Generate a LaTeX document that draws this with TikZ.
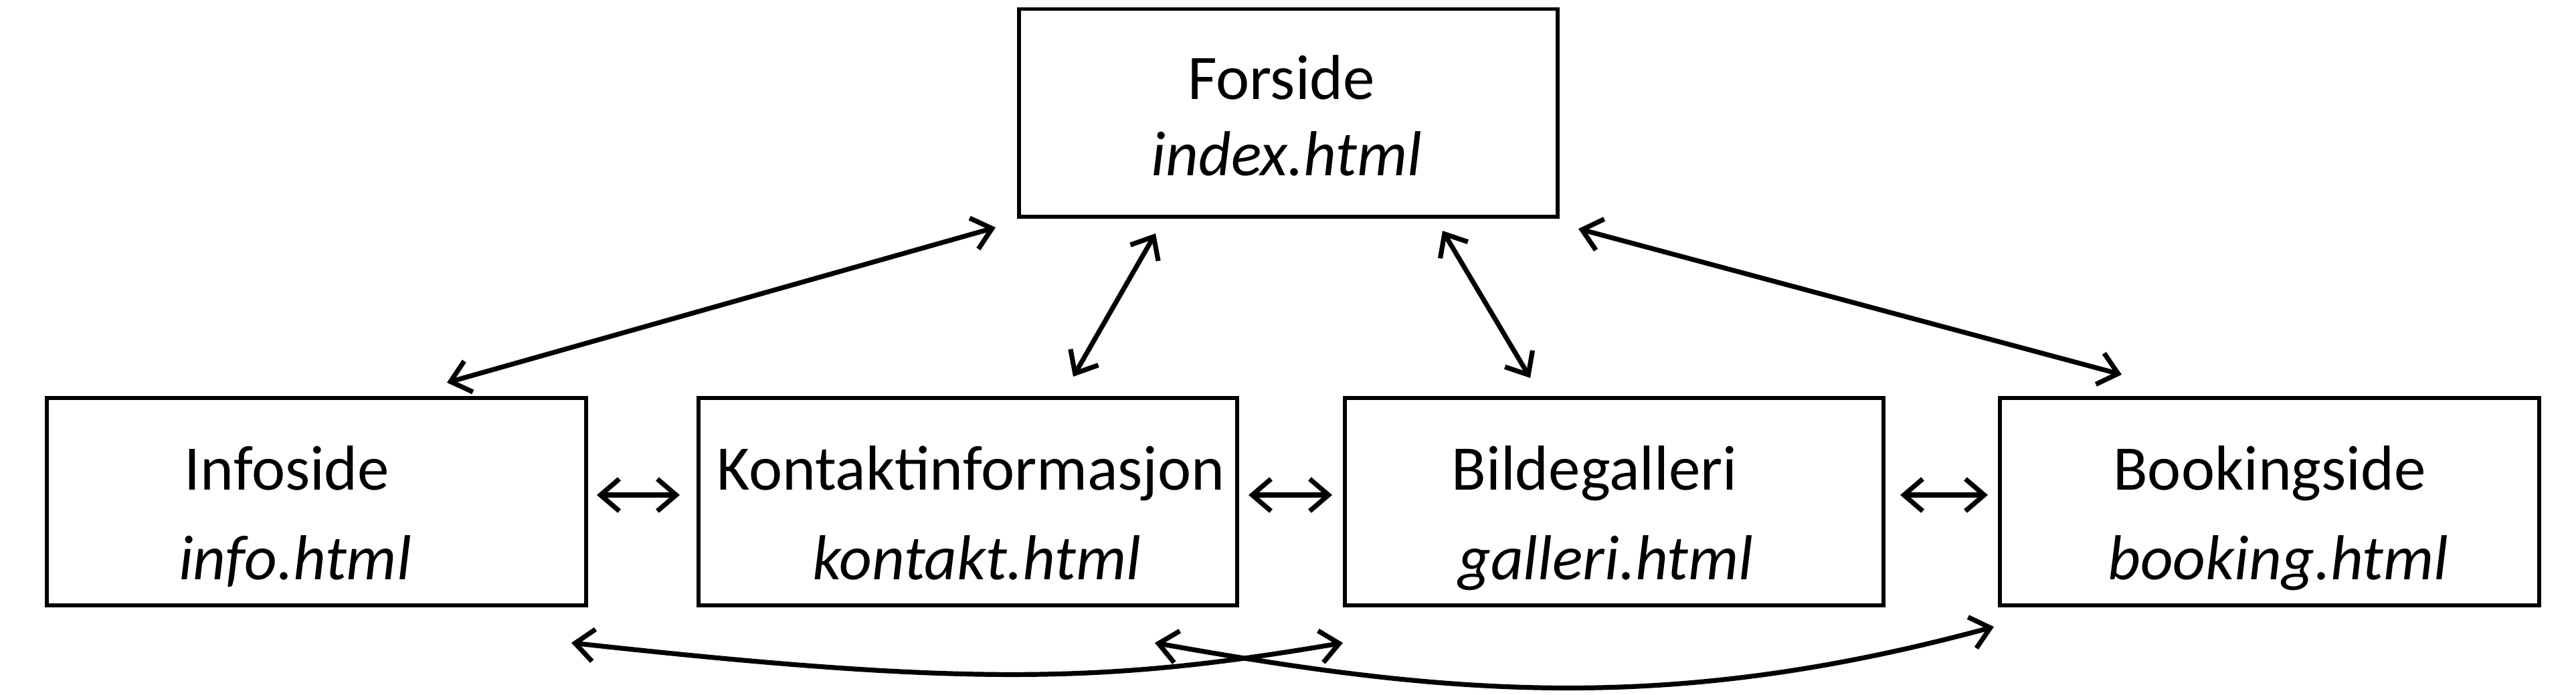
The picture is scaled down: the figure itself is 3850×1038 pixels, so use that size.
\documentclass[tikz,border=0pt]{standalone}
\usepackage{fontspec}
\setmainfont{Carlito}
\usetikzlibrary{arrows.meta}
\begin{document}
\begin{tikzpicture}[x=0.01cm,y=-0.01cm,
  pagebox/.style={draw=black, line width=0.058cm, minimum width=8.05cm, minimum height=3.1cm, inner sep=0pt},
  lbl/.style={anchor=base, inner sep=0pt, font=\fontsize{27}{32}\selectfont},
  ilbl/.style={anchor=base, inner sep=0pt, font=\fontsize{27}{32}\selectfont\itshape},
  link/.style={line width=0.072cm, {Straight Barb[length=0.28cm,width=0.48cm]}-{Straight Barb[length=0.28cm,width=0.48cm]}}]
\useasboundingbox (0,0) rectangle (3850,1038);

% boxes
\node[pagebox] (forside) at (1925.5,168.5) {};
\node[pagebox] (info)    at (473,750) {};
\node[pagebox] (kontakt) at (1446.5,750) {};
\node[pagebox] (galleri) at (2412.5,750) {};
\node[pagebox] (booking) at (3392,750) {};

% texts
\node[lbl]  (t1a) at (1915,148) {Forside};
\node[ilbl] (t1b) at (1923,262) {index.html};
\node[lbl]  (t2a) at (429,732) {Infoside};
\node[ilbl] (t2b) at (441,866) {info.html};
\node[lbl]  (t3a) at (1451,732) {Kontaktinformasjon};
\node[ilbl] (t3b) at (1460,866) {kontakt.html};
\node[lbl]  (t4a) at (2383,732) {Bildegalleri};
\node[ilbl] (t4b) at (2400,866) {galleri.html};
\node[lbl]  (t5a) at (3392,732) {Bookingside};
\node[ilbl] (t5b) at (3405,866) {booking.html};

% connector end points
\coordinate (fI) at (1488,340);
\coordinate (Ii) at (668,572);
\coordinate (fK) at (1727,349);
\coordinate (Kk) at (1604,563);
\coordinate (fG) at (2156,345);
\coordinate (Gg) at (2287,565);
\coordinate (fB) at (2359,342);
\coordinate (Bb) at (3171,560);

\coordinate (iR) at (892,740);
\coordinate (kL) at (1016,740);
\coordinate (kR) at (1866,740);
\coordinate (gL) at (1991,740);
\coordinate (gR) at (2840,740);
\coordinate (bL) at (2971,740);

\coordinate (iB) at (854,961);
\coordinate (gB) at (2007,961);
\coordinate (kB) at (1726,961);
\coordinate (bB) at (2980,937);

% connectors
\draw[link] (fI) -- (Ii);
\draw[link] (fK) -- (Kk);
\draw[link] (fG) -- (Gg);
\draw[link] (fB) -- (Bb);

\draw[link] (iR) -- (kL);
\draw[link] (kR) -- (gL);
\draw[link] (gR) -- (bL);

\draw[link] (iB) .. controls (1454,1027) and (1657,1020.5) .. (gB);
\draw[link] (kB) .. controls (2176,1042) and (2500,1066.6) .. (bB);
\end{tikzpicture}
\end{document}
